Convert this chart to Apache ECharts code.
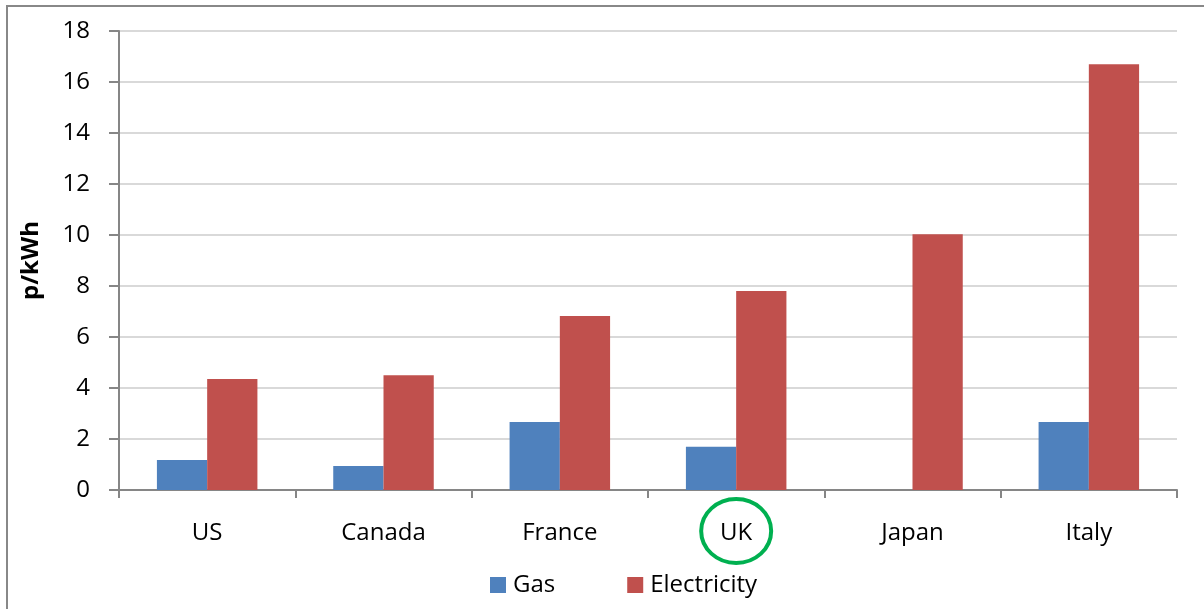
<!DOCTYPE html>
<html><head><meta charset="utf-8">
<script src="https://cdn.jsdelivr.net/npm/echarts@6/dist/echarts.min.js"></script>
<style>html,body{margin:0;padding:0;background:#fff}#c{width:1204px;height:609px}</style>
</head><body><div id="c"></div>
<script>
const categories = ['US','Canada','France','UK','Japan','Italy'];
const gasValues = [1.18, 0.94, 2.67, 1.70, 0, 2.67];
const electricityValues = [4.35, 4.5, 6.82, 7.8, 10.03, 16.7];
const yTicks = [0,2,4,6,8,10,12,14,16,18];
const highlighted = 'UK';

const FONT = '"Open Sans", sans-serif';
const FS = 24;
const chart = echarts.init(document.getElementById('c'));
chart.setOption({
  animation: false,
  backgroundColor: '#fff',
  grid: {left: 119, right: 27, top: 31, bottom: 119},
  legend: {
    data: ['Gas','Electricity'],
    bottom: 7, left: 485,
    itemWidth: 16, itemHeight: 16, itemGap: 72,
    icon: 'rect',
    textStyle: {fontFamily: FONT, fontSize: FS, color: '#000', padding: [0, 0, 0, 2]}
  },
  xAxis: {
    type: 'category', data: categories,
    axisLine: {lineStyle: {color: '#868686', width: 2}},
    axisTick: {show: true, length: 8, lineStyle: {color: '#868686', width: 2}},
    axisLabel: {fontFamily: FONT, fontSize: FS, color: '#000', margin: 31}
  },
  yAxis: {
    type: 'value', min: yTicks[0], max: yTicks[yTicks.length-1], interval: 2,
    name: 'p/kWh', nameLocation: 'middle', nameGap: 76,
    nameTextStyle: {fontFamily: FONT, fontSize: FS, fontWeight: 'bold', color: '#000'},
    axisLine: {show: true, lineStyle: {color: '#868686', width: 2}},
    axisTick: {show: true, length: 10, lineStyle: {color: '#868686', width: 2}},
    axisLabel: {fontFamily: FONT, fontSize: FS, color: '#000', margin: 29},
    splitLine: {lineStyle: {color: '#d9d9d9', width: 2}}
  },
  series: [
    {name: 'Gas', type: 'bar', data: gasValues, barGap: '0%', barCategoryGap: '43%',
     itemStyle: {color: '#4F81BD'}},
    {name: 'Electricity', type: 'bar', data: electricityValues, barGap: '0%', barCategoryGap: '43%',
     itemStyle: {color: '#C0504D'}}
  ]
});
const cx = chart.convertToPixel({xAxisIndex: 0}, highlighted);
const cy = chart.convertToPixel({yAxisIndex: 0}, 0) + 41;
chart.setOption({
  graphic: [
    {type: 'rect', shape: {x: 7, y: 6, width: 1300, height: 700},
     style: {fill: 'none', stroke: '#888', lineWidth: 2}, silent: true},
    {type: 'ellipse', shape: {cx: cx, cy: cy, rx: 35, ry: 32},
     style: {fill: 'none', stroke: '#00B050', lineWidth: 4}, silent: true}
  ]
});
</script></body></html>
